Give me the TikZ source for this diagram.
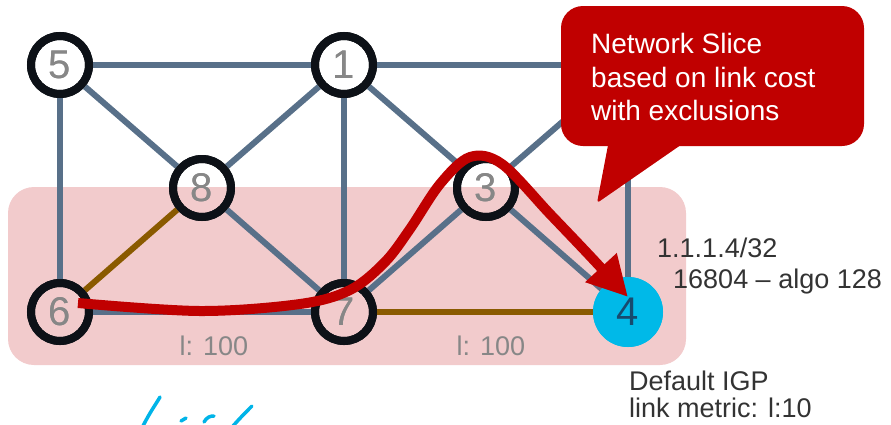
\documentclass[tikz,border=0pt]{standalone}
\usepackage{fontspec}
\setmainfont{Liberation Sans}
\usetikzlibrary{arrows.meta}
\definecolor{edgec}{HTML}{587089}
\definecolor{ringc}{HTML}{0D1117}
\definecolor{brownc}{HTML}{8A5A00}
\definecolor{pinkbg}{HTML}{F2CBCC}
\definecolor{slicered}{HTML}{C00000}
\definecolor{cyannode}{HTML}{00B9E8}
\definecolor{numgray}{HTML}{878787}
\definecolor{txtgray}{HTML}{333333}
\definecolor{darkblue}{HTML}{174A6E}
\definecolor{inkc}{HTML}{00B4E8}
\begin{document}
\begin{tikzpicture}[x=1pt,y=-1pt,
  router/.style={circle, draw=ringc, line width=8pt, minimum size=58pt, inner sep=0pt, text=numgray, font=\fontsize{40}{40}\selectfont},
  dest/.style={circle, fill=cyannode, minimum size=70pt, inner sep=0pt, text=darkblue, font=\fontsize{40}{40}\selectfont},
  link/.style={draw=edgec, line width=6pt},
  exlink/.style={draw=brownc, line width=6pt},
  metric/.style={text=numgray, font=\fontsize{27}{27}\selectfont, inner sep=0pt},
  info/.style={text=txtgray, font=\fontsize{27}{27}\selectfont, inner sep=0pt, anchor=base west},
  calltext/.style={text=white, font=\fontsize{28}{28}\selectfont, inner sep=0pt, anchor=base west},
  ink/.style={draw=inkc, line width=3.5pt, line cap=round}
]
\useasboundingbox (0,0) rectangle (891,424);
% slice area
\fill[pinkbg, rounded corners=26pt] (8,187) rectangle (686,365);
% nodes
\node[router] (n5) at (60,65) {5};
\node[router] (n1) at (344,65) {1};
\node[router] (n8) at (202,188) {8};
\node[router] (n6) at (60,312) {6};
\node[router] (n7) at (344,312) {7};
\node[router] (n3) at (486,188) {3};
\node[dest] (n4) at (628,312) {4};
\coordinate (n2) at (628,65);
% links
\draw[link] (n5) -- (n1);
\draw[link] (n5) -- (n8);
\draw[link] (n5) -- (n6);
\draw[link] (n1) -- (n8);
\draw[link] (n1) -- (n7);
\draw[link] (n1) -- (n3);
\draw[link] (n1) -- (n2);
\draw[link] (n8) -- (n7);
\draw[link] (n6) -- (n7);
\draw[link] (n7) -- (n3);
\draw[link] (n3) -- (n4);
\draw[link] (n3) -- (n2);
\draw[link] (n2) -- (n4);
\draw[exlink] (n8) -- (n6);
\draw[exlink] (n7) -- (n4);
% redraw rings over link ends
\node[router] at (n5) {5};
\node[router] at (n1) {1};
\node[router] at (n8) {8};
\node[router] at (n6) {6};
\node[router] at (n7) {7};
\node[router] at (n3) {3};
\node[dest] at (n4) {4};
% metric labels
\node[metric, anchor=base] (m1) at (214,355) {l: 100};
\node[metric, anchor=base] (m2) at (491,355) {l: 100};
% info texts
\node[info] (pfx) at (657,257) {1.1.1.4/32};
\node[info] (sid) at (673,288) {16804 – algo 128};
\node[info] (def1) at (629,390) {Default IGP};
\node[info] (def2) at (629,417) {link metric: l:10};
% slice path
\draw[slicered, line width=10pt, -{Triangle[length=40pt,width=40pt]}]
  plot[smooth, tension=0.55] coordinates {(78,303) (200,311) (300,304) (350,290) (385,262) (410,229) (440,184) (470,157) (502,164) (550,214) (590,256) (628,297)};
% callout
\fill[slicered, rounded corners=22pt] (561,6) rectangle (864,146);
\fill[slicered, rounded corners=3pt] (609,140) -- (597,203) -- (688,140) -- cycle;
\node[calltext] (c1) at (591,53) {Network Slice};
\node[calltext] (c2) at (591,87) {based on link cost};
\node[calltext] (c3) at (591,120) {with exclusions};
% ink scribble
\draw[ink] (143,426) .. controls (150,412) and (156,404) .. (160,397);
\draw[ink] (181,421) -- (186,418);
\draw[ink] (204,422) .. controls (207,417) and (210,416) .. (214,416);
\draw[ink] (233,426) .. controls (240,418) and (247,411) .. (252,406);
\end{tikzpicture}
\end{document}
